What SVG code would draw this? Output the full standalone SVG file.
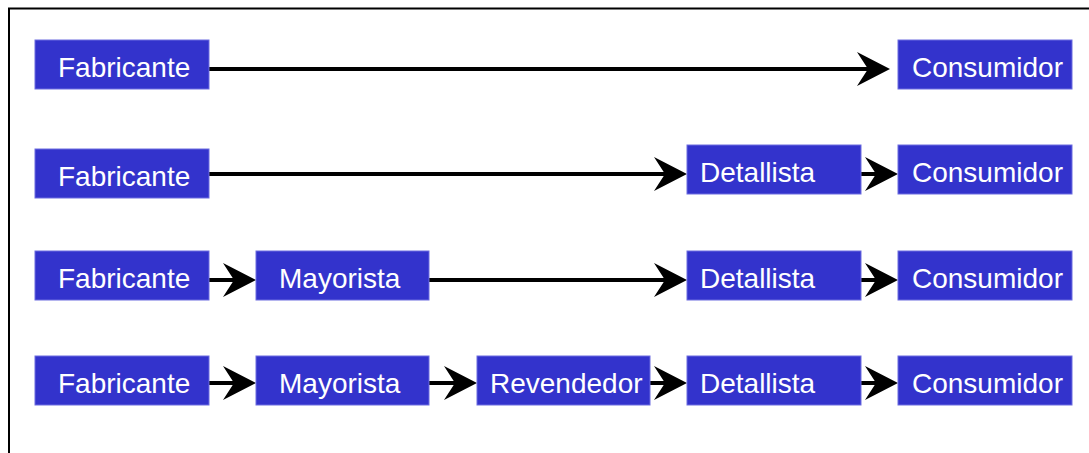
<svg xmlns="http://www.w3.org/2000/svg" width="1089" height="453" viewBox="0 0 1089 453">
<style>
.box{fill:#3333CC;stroke:#6C6CE0;stroke-width:1}
.lbl{fill:#FFFFFF;font-family:"Liberation Sans",Arial,sans-serif;font-size:28px}
.conn{stroke:#000;stroke-width:4;fill:none}
</style>
<defs>
<marker id="ah" viewBox="-34 -18 36 36" refX="-20" refY="0" markerWidth="36" markerHeight="36" markerUnits="userSpaceOnUse" orient="auto">
<path d="M0,0 L-33,-17 L-22,0 L-33,17 Z" fill="#000"/>
</marker>
</defs>
<rect width="1089" height="453" fill="#FFFFFF"/>
<rect x="9" y="8.5" width="1100" height="500" fill="none" stroke="#000" stroke-width="2"/>
<g id="connectors">
<path class="conn" d="M209,69 H870" marker-end="url(#ah)"/>
<path class="conn" d="M209,174 H667" marker-end="url(#ah)"/>
<path class="conn" d="M861,174 H878" marker-end="url(#ah)"/>
<path class="conn" d="M209,280 H236" marker-end="url(#ah)"/>
<path class="conn" d="M429,280 H667" marker-end="url(#ah)"/>
<path class="conn" d="M861,280 H878" marker-end="url(#ah)"/>
<path class="conn" d="M209,383 H236" marker-end="url(#ah)"/>
<path class="conn" d="M429,383 H457" marker-end="url(#ah)"/>
<path class="conn" d="M650,383 H667" marker-end="url(#ah)"/>
<path class="conn" d="M861,383 H878" marker-end="url(#ah)"/>
</g>
<g id="f1"><rect class="box" x="35" y="40" width="174" height="49"/><text class="lbl" x="58" y="77">Fabricante</text></g>
<g id="c1"><rect class="box" x="898" y="40" width="174" height="49"/><text class="lbl" x="912" y="77">Consumidor</text></g>
<g id="f2"><rect class="box" x="35" y="149" width="174" height="49"/><text class="lbl" x="58" y="186">Fabricante</text></g>
<g id="d2"><rect class="box" x="687" y="145" width="174" height="49"/><text class="lbl" x="700" y="182">Detallista</text></g>
<g id="c2"><rect class="box" x="898" y="145" width="174" height="49"/><text class="lbl" x="912" y="182">Consumidor</text></g>
<g id="f3"><rect class="box" x="35" y="251" width="174" height="49"/><text class="lbl" x="58" y="288">Fabricante</text></g>
<g id="m3"><rect class="box" x="256" y="251" width="173" height="49"/><text class="lbl" x="279" y="288">Mayorista</text></g>
<g id="d3"><rect class="box" x="687" y="251" width="174" height="49"/><text class="lbl" x="700" y="288">Detallista</text></g>
<g id="c3"><rect class="box" x="898" y="251" width="174" height="49"/><text class="lbl" x="912" y="288">Consumidor</text></g>
<g id="f4"><rect class="box" x="35" y="356" width="174" height="49"/><text class="lbl" x="58" y="393">Fabricante</text></g>
<g id="m4"><rect class="box" x="256" y="356" width="173" height="49"/><text class="lbl" x="279" y="393">Mayorista</text></g>
<g id="r4"><rect class="box" x="477" y="356" width="173" height="49"/><text class="lbl" x="490" y="393">Revendedor</text></g>
<g id="d4"><rect class="box" x="687" y="356" width="174" height="49"/><text class="lbl" x="700" y="393">Detallista</text></g>
<g id="c4"><rect class="box" x="898" y="356" width="174" height="49"/><text class="lbl" x="912" y="393">Consumidor</text></g>
</svg>
